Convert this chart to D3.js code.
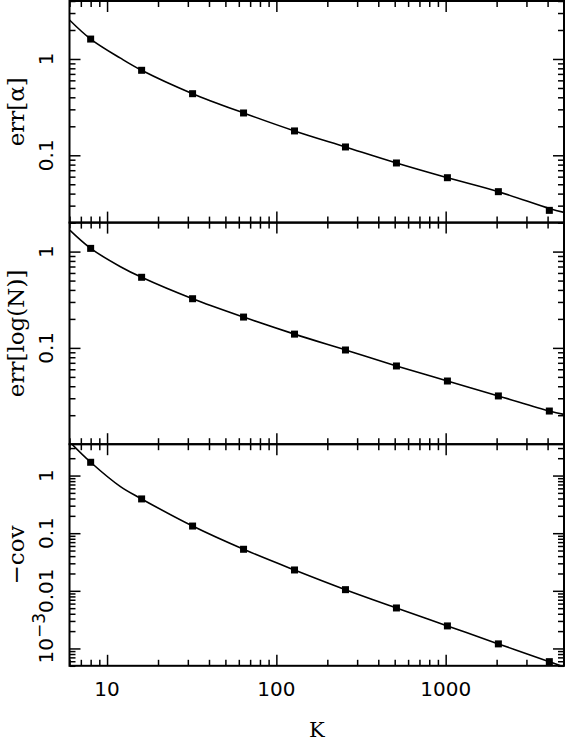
<!DOCTYPE html>
<html lang="en">
<head>
<meta charset="UTF-8">
<title>errors vs K</title>
<style>
  body { margin: 0; background: #fff; }
</style>
</head>
<body>
<script src="https://cdn.jsdelivr.net/npm/d3@7"></script>
<script>
// measured points (filled squares)
const kPoints = [8, 16, 32, 64, 128, 256, 512, 1024, 2048, 4096];
const errAlpha = [1.61, 0.763, 0.436, 0.275, 0.179, 0.122, 0.0832, 0.0585, 0.0419, 0.0268];
const errLogN = [1.08, 0.541, 0.324, 0.209, 0.139, 0.0951, 0.0649, 0.0453, 0.0317, 0.0221];
const negCov = [1.70, 0.393, 0.133, 0.0526, 0.0230, 0.01047, 0.00504, 0.00246, 0.00120, 0.00059];

// the smooth line, read along its length
const kCurve = [6, 8, 12, 16, 32, 64, 128, 256, 512, 1024, 2048, 4096, 5000];
const curveAlpha = [2.54, 1.61, 1.02, 0.763, 0.436, 0.275, 0.179, 0.122, 0.0832, 0.0585, 0.0419, 0.0280, 0.0255];
const curveLogN = [1.68, 1.08, 0.697, 0.541, 0.324, 0.209, 0.139, 0.0951, 0.0649, 0.0453, 0.0317, 0.0221, 0.0204];
const curveCov = [3.86, 1.70, 0.642, 0.393, 0.133, 0.0526, 0.0230, 0.01047, 0.00504, 0.00246, 0.00120, 0.00059, 0.000477];

const xDomain = [6, 5000];
const xTicks = [10, 100, 1000];
const xTickLabels = ['10', '100', '1000'];

const yTitles = ['err[α]', 'err[log(N)]', '\u2212cov'];
const yDomains = [[0.02, 4], [0.01, 2], [0.0005, 3.5]];
const yTicks = [[0.1, 1], [0.1, 1], [0.001, 0.01, 0.1, 1]];
const yTickLabels = [['0.1', '1'], ['0.1', '1'], ['10^-3', '0.01', '0.1', '1']];

const W = 565, H = 741;
const plotLeft = 69.5, plotRight = 564, plotTop = 1, ph = 221.6;
const numFont = 'DejaVu Sans', titleFont = 'DejaVu Serif';

let svg = d3.select('body').append('svg')
    .attr('width', W)
    .attr('height', H);

let x = d3.scaleLog().domain(xDomain).range([plotLeft, plotRight]);

// 2..9 times each power of ten inside the domain
function minorTicks(domain){
    let out = [];
    for (let e = -5; e <= 4; e++){
        for (let m = 2; m < 10; m++){
            let v = m * Math.pow(10, e);
            if (v >= domain[0] * 0.999 && v <= domain[1] * 1.001) out.push(v);
        }
    }
    return out;
}

function styleAxis(g){
    g.select('.domain').remove();
    g.selectAll('.tick line').attr('stroke', '#000').attr('stroke-width', 1.5);
    g.selectAll('.tick text').remove();
}

const seriesPts = [errAlpha, errLogN, negCov];
const seriesCurve = [curveAlpha, curveLogN, curveCov];

for (let p = 0; p < 3; p++){
    let y0 = plotTop + p * ph, y1 = plotTop + (p + 1) * ph;
    let y = d3.scaleLog().domain(yDomains[p]).range([y1, y0]);
    let g = svg.append('g');

    // clip for the line
    g.append('clipPath').attr('id', 'clip' + p)
        .append('rect')
        .attr('x', plotLeft).attr('y', y0)
        .attr('width', plotRight - plotLeft).attr('height', y1 - y0);

    let line = d3.line()
        .x(function(d){ return x(d[0]); })
        .y(function(d){ return y(d[1]); })
        .curve(d3.curveCatmullRom);

    g.append('path')
        .datum(kCurve.map(function(k, i){ return [k, seriesCurve[p][i]]; }))
        .attr('clip-path', 'url(#clip' + p + ')')
        .attr('fill', 'none')
        .attr('stroke', '#000')
        .attr('stroke-width', 1.6)
        .attr('d', line);

    g.selectAll('.pt')
        .data(kPoints.map(function(k, i){ return [k, seriesPts[p][i]]; }))
        .enter()
        .append('rect')
        .attr('class', 'pt')
        .attr('x', function(d){ return x(d[0]) - 3.5; })
        .attr('y', function(d){ return y(d[1]) - 3.5; })
        .attr('width', 7)
        .attr('height', 7)
        .attr('fill', '#000');

    // ticks on all four sides, pointing inward
    let xMinor = minorTicks(xDomain);
    let yMajor = yTicks[p];
    let yMinor = minorTicks(yDomains[p]);

    g.append('g').attr('transform', 'translate(0,' + y1 + ')')
        .call(d3.axisBottom(x).tickValues(xTicks).tickSize(-11)).call(styleAxis);
    g.append('g').attr('transform', 'translate(0,' + y1 + ')')
        .call(d3.axisBottom(x).tickValues(xMinor).tickSize(-6)).call(styleAxis);
    g.append('g').attr('transform', 'translate(0,' + y0 + ')')
        .call(d3.axisTop(x).tickValues(xTicks).tickSize(-11)).call(styleAxis);
    g.append('g').attr('transform', 'translate(0,' + y0 + ')')
        .call(d3.axisTop(x).tickValues(xMinor).tickSize(-6)).call(styleAxis);

    g.append('g').attr('transform', 'translate(' + plotLeft + ',0)')
        .call(d3.axisLeft(y).tickValues(yMajor).tickSize(-11)).call(styleAxis);
    g.append('g').attr('transform', 'translate(' + plotLeft + ',0)')
        .call(d3.axisLeft(y).tickValues(yMinor).tickSize(-6)).call(styleAxis);
    g.append('g').attr('transform', 'translate(' + plotRight + ',0)')
        .call(d3.axisRight(y).tickValues(yMajor).tickSize(-11)).call(styleAxis);
    g.append('g').attr('transform', 'translate(' + plotRight + ',0)')
        .call(d3.axisRight(y).tickValues(yMinor).tickSize(-6)).call(styleAxis);

    g.append('rect')
        .attr('x', plotLeft).attr('y', y0)
        .attr('width', plotRight - plotLeft).attr('height', y1 - y0)
        .attr('fill', 'none')
        .attr('stroke', '#000')
        .attr('stroke-width', 2);

    // rotated tick labels
    yMajor.forEach(function(v, i){
        let lab = yTickLabels[p][i];
        let ty = y(v), tx = 53;
        let t = g.append('text')
            .attr('transform', 'translate(' + tx + ',' + ty + ') rotate(-90)')
            .attr('font-family', numFont)
            .attr('font-size', 20)
            .attr('fill', '#000');
        if (lab.indexOf('^') >= 0){
            let parts = lab.split('^');
            // keep the mantissa centred on the tick, exponent hangs past it
            t.attr('text-anchor', 'start').attr('x', -15);
            t.append('tspan').text(parts[0]);
            t.append('tspan').attr('dy', -8).attr('font-size', 17)
                .text(parts[1].replace('-', '\u2212'));
        } else {
            t.attr('text-anchor', 'middle').text(lab);
        }
    });

    svg.append('text')
        .attr('transform', 'translate(24,' + ((y0 + y1) / 2) + ') rotate(-90)')
        .attr('text-anchor', 'middle')
        .attr('font-family', titleFont)
        .attr('font-size', 23)
        .attr('fill', '#000')
        .text(yTitles[p]);
}

// x tick labels under the bottom panel
svg.selectAll('.xlab')
    .data(xTicks)
    .enter()
    .append('text')
    .attr('class', 'xlab')
    .attr('x', function(d){ return x(d); })
    .attr('y', 696)
    .attr('text-anchor', 'middle')
    .attr('font-family', numFont)
    .attr('font-size', 20)
    .attr('fill', '#000')
    .text(function(d, i){ return xTickLabels[i]; });

svg.append('text')
    .attr('x', (plotLeft + plotRight) / 2)
    .attr('y', 737)
    .attr('text-anchor', 'middle')
    .attr('font-family', titleFont)
    .attr('font-size', 21)
    .attr('fill', '#000')
    .text('K');
</script>
</body>
</html>
